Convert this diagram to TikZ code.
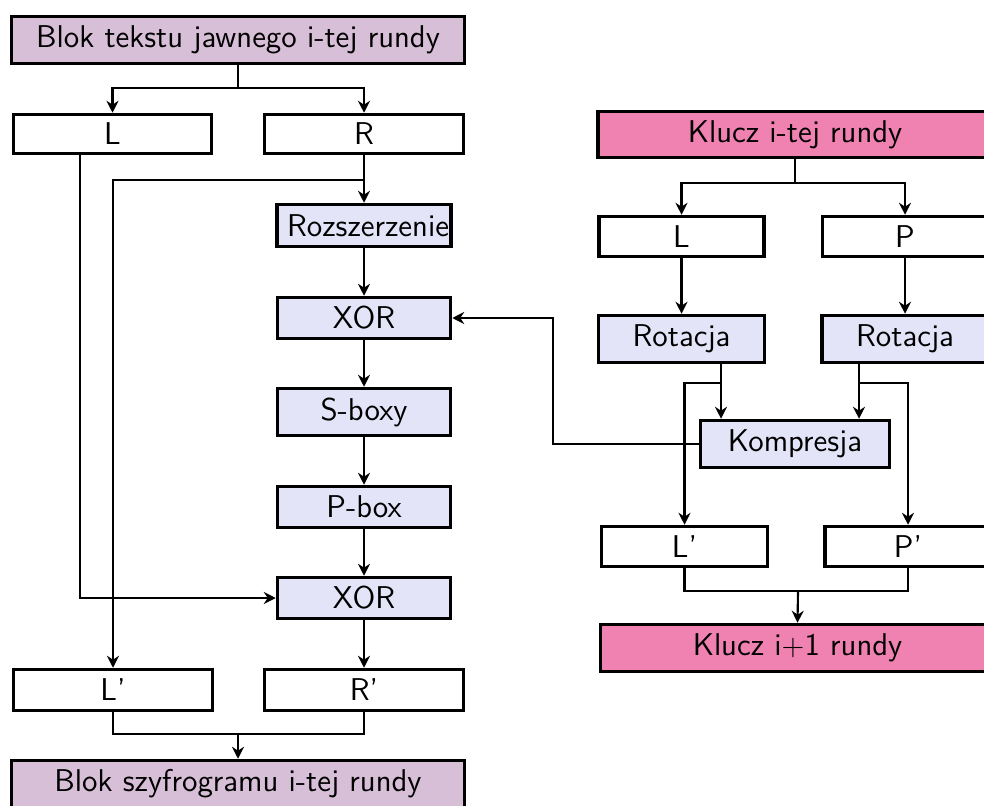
\documentclass[tikz,border=0pt]{standalone}
\usetikzlibrary{arrows.meta,calc}
\definecolor{lilac}{RGB}{216,191,216}
\definecolor{keypink}{RGB}{240,130,178}
\definecolor{opblue}{RGB}{228,228,248}
\begin{document}
\begin{tikzpicture}[x=0.4pt,y=-0.4pt,
  every node/.style={font=\sffamily\fontsize{12.6}{15}\selectfont},
  box/.style 2 args={draw, line width=1.4pt, inner sep=0pt,
    minimum width=#1*0.4pt, minimum height=#2*0.4pt},
  blockbox/.style={fill=lilac},
  keybox/.style={fill=keypink},
  opbox/.style={fill=opblue},
  plain/.style={fill=white},
  wire/.style={line width=0.85pt},
  arr/.style={line width=0.85pt, -{Stealth[length=4.8pt,width=4.8pt,inset=1.6pt]}}]
\useasboundingbox (0,0) rectangle (984,805);
\clip (0,0) rectangle (984,805);

% --- round of the block cipher (Feistel structure) ---
\node[box={453}{47}, blockbox] (top) at (238,40) {Blok tekstu jawnego i-tej rundy};
\node[box={198}{39}, plain] (L) at (112.5,134) {L};
\node[box={199}{39}, plain] (R) at (364,134) {R};
\node[box={174}{42}, opbox] (roz) at (364,225.5) {\hspace*{3.2pt}Rozszerzenie};
\node[box={173}{41}, opbox] (xor1) at (364,318) {XOR};
\node[box={173}{47}, opbox] (sbox) at (364,412) {S-boxy};
\node[box={173}{41}, opbox] (pbox) at (364,507) {P-box};
\node[box={173}{41}, opbox] (xor2) at (364,598) {XOR};
\node[box={199}{41}, plain] (Lp) at (113,690) {L'};
\node[box={199}{41}, plain] (Rp) at (364,690) {R'};
\node[box={453}{47}, blockbox] (bot) at (238,784) {Blok szyfrogramu i-tej rundy};

% --- key schedule ---
\node[box={394}{46}, keybox] (key) at (795,134.5) {Klucz i-tej rundy};
\node[box={165}{40}, plain] (kL) at (681.5,236.5) {L};
\node[box={165}{40}, plain] (kP) at (905,236.5) {P};
\node[box={166}{47}, opbox] (rotL) at (681.5,339) {Rotacja};
\node[box={166}{47}, opbox] (rotP) at (905,339) {Rotacja};
\node[box={189}{47}, opbox] (komp) at (795,444) {Kompresja};
\node[box={166}{40}, plain] (kLp) at (684.5,546.5) {L'};
\node[box={166}{40}, plain] (kPp) at (908,546.5) {P'};
\node[box={394}{47}, keybox] (knext) at (797.5,648) {Klucz i$+$1 rundy};

% --- connectors of the cipher round ---
\coordinate (sA) at (238,88);
\draw[wire] (top.south) -- (sA);
\draw[arr] (sA) -| (L.north);
\draw[arr] (sA) -| (R.north);
\draw[arr] (R.south) -- (roz.north);
\coordinate (bR) at (364,180);
\draw[arr] (bR) -| (Lp.north);
\coordinate (Lout) at ($(L.south)+(-32.5,0)$);
\draw[arr] (Lout) |- (xor2.west);
\draw[arr] (roz.south) -- (xor1.north);
\draw[arr] (xor1.south) -- (sbox.north);
\draw[arr] (sbox.south) -- (pbox.north);
\draw[arr] (pbox.south) -- (xor2.north);
\draw[arr] (xor2.south) -- (Rp.north);
\coordinate (jL) at (238,734);
\draw[wire] (Lp.south) |- (jL) -| (Rp.south);
\draw[arr] (jL) -- (bot.north);

% --- connectors of the key schedule ---
\coordinate (sK) at (795,183);
\draw[wire] (key.south) -- (sK);
\draw[arr] (sK) -| (kL.north);
\draw[arr] (sK) -| (kP.north);
\draw[arr] (kL.south) -- (rotL.north);
\draw[arr] (kP.south) -- (rotP.north);
\coordinate (rLo) at ($(rotL.south)+(39.5,0)$);
\coordinate (rPo) at ($(rotP.south)+(-46,0)$);
\draw[arr] (rLo) -- (rLo |- komp.north);
\draw[arr] (rPo) -- (rPo |- komp.north);
\coordinate (rLb) at (721,383);
\coordinate (rPb) at (859,383);
\draw[arr] (rLb) -| (kLp.north);
\draw[arr] (rPb) -| (kPp.north);
\coordinate (kb) at (553,444);
\draw[arr] (komp.west) -- (kb) |- (xor1.east);
\coordinate (jK) at (798,591);
\draw[wire] (kLp.south) |- (jK) -| (kPp.south);
\draw[arr] (jK) -- (knext.north);
\end{tikzpicture}
\end{document}
